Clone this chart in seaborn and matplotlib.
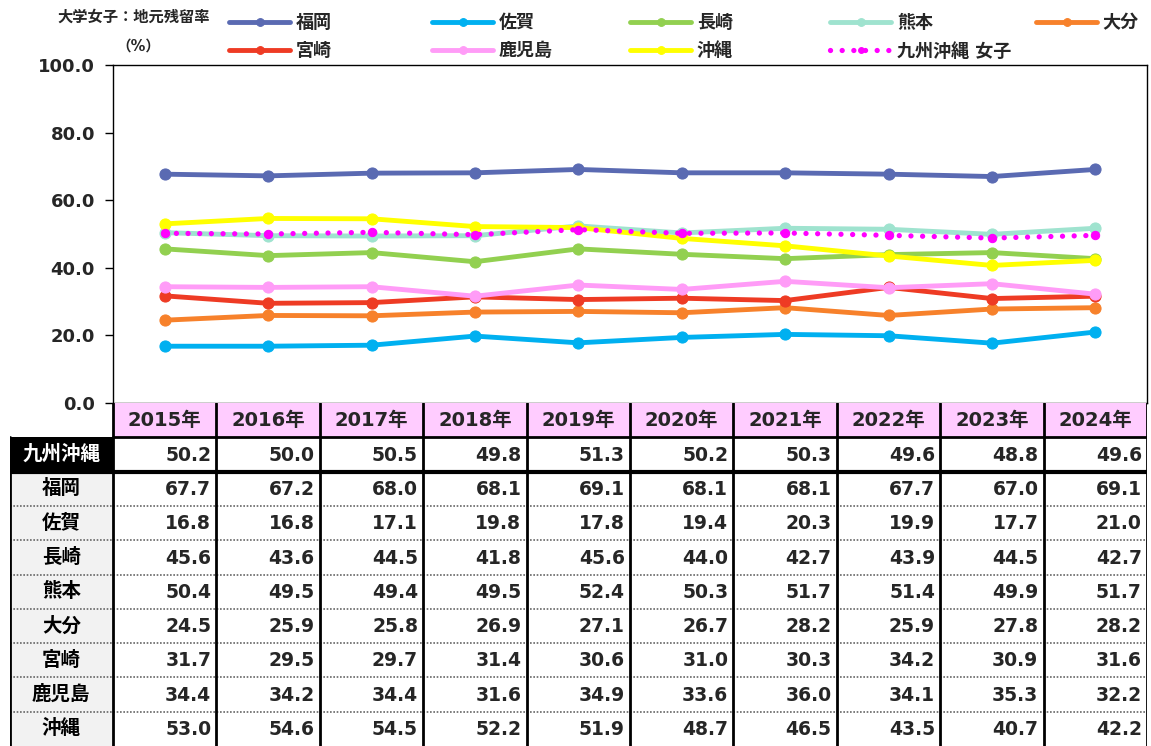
import matplotlib
matplotlib.use('Agg')
import matplotlib.pyplot as plt
from matplotlib.patches import Rectangle
import seaborn as sns

years = ['2015年', '2016年', '2017年', '2018年', '2019年', '2020年', '2021年', '2022年', '2023年', '2024年']
kyushu = [50.2, 50.0, 50.5, 49.8, 51.3, 50.2, 50.3, 49.6, 48.8, 49.6]
fukuoka = [67.7, 67.2, 68.0, 68.1, 69.1, 68.1, 68.1, 67.7, 67.0, 69.1]
saga = [16.8, 16.8, 17.1, 19.8, 17.8, 19.4, 20.3, 19.9, 17.7, 21.0]
nagasaki = [45.6, 43.6, 44.5, 41.8, 45.6, 44.0, 42.7, 43.9, 44.5, 42.7]
kumamoto = [50.4, 49.5, 49.4, 49.5, 52.4, 50.3, 51.7, 51.4, 49.9, 51.7]
oita = [24.5, 25.9, 25.8, 26.9, 27.1, 26.7, 28.2, 25.9, 27.8, 28.2]
miyazaki = [31.7, 29.5, 29.7, 31.4, 30.6, 31.0, 30.3, 34.2, 30.9, 31.6]
kagoshima = [34.4, 34.2, 34.4, 31.6, 34.9, 33.6, 36.0, 34.1, 35.3, 32.2]
okinawa = [53.0, 54.6, 54.5, 52.2, 51.9, 48.7, 46.5, 43.5, 40.7, 42.2]

prefs = ['福岡', '佐賀', '長崎', '熊本', '大分', '宮崎', '鹿児島', '沖縄']
pref_vals = [fukuoka, saga, nagasaki, kumamoto, oita, miyazaki, kagoshima, okinawa]
colors = ['#5a6ab2', '#00b0f0', '#92d050', '#9fe3cf', '#f7812b', '#ee3b24', '#ff9cf7', '#ffff00']
total_label = '九州沖縄 女子'
total_color = '#ff00ff'

sns.set_theme(style='white')
plt.rcParams['font.family'] = ['DejaVu Sans', 'Noto Sans CJK JP']

W, H = 1151, 746
fig = plt.figure(figsize=(W / 100, H / 100), dpi=100)
ax = fig.add_axes([113 / W, 343 / H, 1034 / W, 338 / H])

handles = {}
for name, vals, c in zip(prefs, pref_vals, colors):
    sns.lineplot(x=years, y=vals, ax=ax, color=c, lw=3.5, marker='o', ms=8,
                 mec=c, mfc=c, sort=False, legend=False)
    handles[name] = ax.lines[-1]
# 九州沖縄 total, dotted
sns.lineplot(x=years, y=kyushu, ax=ax, color=total_color, lw=3.8, ls=(0, (0.01, 2.2)),
             dash_capstyle='round', marker='o', ms=6, mec=total_color, mfc=total_color,
             sort=False, legend=False)
handles[total_label] = ax.lines[-1]

ax.set_xlim(-0.5, 9.5)
ax.set_ylim(0, 100)
ax.set_xticks([])
ax.set_yticks([0, 20, 40, 60, 80, 100])
ax.set_yticklabels([f'{v:.1f}' for v in [0, 20, 40, 60, 80, 100]], fontsize=13, fontweight='bold')
ax.tick_params(axis='y', left=True, length=6, width=1, pad=7, color='black')
ax.set_xlabel('')
ax.set_ylabel('')
for s in ax.spines.values():
    s.set_color('black')
    s.set_linewidth(1)

# titles
fig.text(57 / W, 1 - 17 / H, '大学女子：地元残留率', fontsize=11, fontweight='bold', va='center', ha='left')
fig.text(116 / W, 1 - 46 / H, '（%）', fontsize=10.5, fontweight='bold', va='center', ha='left')

# legend, one per column
cols = [['福岡', '宮崎'], ['佐賀', '鹿児島'], ['長崎', '沖縄'], ['熊本', total_label], ['大分']]
xs = [229, 432, 630, 830, 1036]
for names, x in zip(cols, xs):
    fig.legend([handles[n] for n in names], names, loc='upper left',
               bbox_to_anchor=(x / W, 1 - 14 / H), frameon=False, borderpad=0,
               borderaxespad=0, handlelength=3.4, handletextpad=0.3, labelspacing=0.58,
               markerscale=0.7, prop={'weight': 'bold', 'size': 13})

# table
tax = fig.add_axes([9.6 / W, 0, (1147 - 9.6) / W, 343 / H])
tax.set_xlim(-1.5, 9.5)
tax.set_ylim(10, 0)
tax.axis('off')

rows = ['九州沖縄'] + prefs
row_vals = [kyushu] + pref_vals

for j in range(10):
    tax.add_patch(Rectangle((j - 0.5, 0), 1, 1, facecolor='#ffccff', edgecolor='none'))
    tax.text(j, 0.52, years[j], ha='center', va='center', fontsize=14, fontweight='bold')
for i, (r, vals) in enumerate(zip(rows, row_vals)):
    y = i + 1
    bg = 'black' if i == 0 else '#f2f2f2'
    fc = 'white' if i == 0 else 'black'
    tax.add_patch(Rectangle((-1.5, y), 1, 1, facecolor=bg, edgecolor='none'))
    tax.text(-1.0, y + 0.5, r, ha='center', va='center', fontsize=14, fontweight='bold', color=fc)
    for j, v in enumerate(vals):
        tax.text(j + 0.45, y + 0.52, f'{v:.1f}', ha='right', va='center', fontsize=13.5, fontweight='bold')

# borders
for y in range(3, 10):
    tax.plot([-1.5, 9.5], [y, y], color='#666666', lw=1.2, ls=(0, (1, 1)))
tax.plot([-0.5, 9.5], [1, 1], color='black', lw=2)
tax.plot([-1.5, 9.5], [2, 2], color='black', lw=3)
tax.plot([-1.5, -1.5], [1, 10], color='black', lw=2)
for j in range(11):
    tax.plot([j - 0.5, j - 0.5], [0, 10], color='black', lw=2)

fig.savefig('out.png', dpi=100)
